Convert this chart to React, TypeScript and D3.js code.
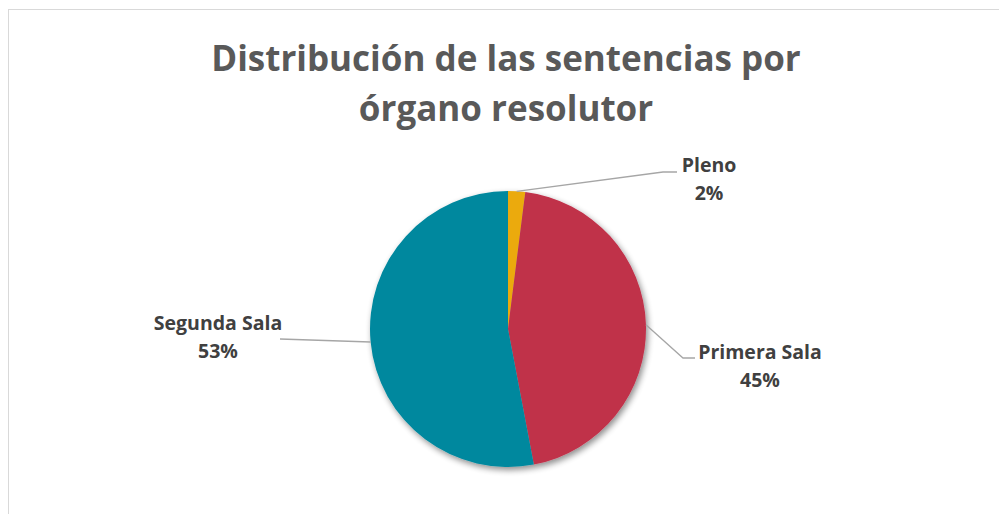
import React from 'react';
import * as d3 from 'd3';

// Data
const categories = ['Pleno', 'Primera Sala', 'Segunda Sala'];
const values = [2, 45, 53];
const colors = ['#EBAA0A', '#C0304A', '#00889E'];

// label layout: where the leader line bends and where the text sits (relative to the pie centre)
const labelLayout = [
  { bend: [155, -157], end: [169, -157], text: [201, -164], anchor: 'middle' },
  { bend: [175, 29], end: [187, 29], text: [252, 23], anchor: 'middle' },
  { bend: [-228, 10], end: [-228, 10], text: [-290, -6], anchor: 'middle' },
];

const title = ['Distribución de las sentencias por', 'órgano resolutor'];

export default function App() {
  const width = 999;
  const height = 514;
  const cx = 508;
  const cy = 329;
  const r = 138;

  const pie = d3.pie<number>().sort(null).value((d) => d);
  const arcs = pie(values);
  const arc = d3.arc<d3.PieArcDatum<number>>().innerRadius(0).outerRadius(r);
  const total = d3.sum(values);
  const fmt = d3.format('.0%');

  return (
    <svg
      width={width}
      height={height}
      style={{ position: 'absolute', left: 0, top: 0 }}
      viewBox={`0 0 ${width} ${height}`}
    >
      <defs>
        <filter id="shadow" x="-20%" y="-20%" width="140%" height="140%">
          <feGaussianBlur in="SourceAlpha" stdDeviation="3" />
          <feOffset dx="2" dy="3" result="blur" />
          <feComponentTransfer>
            <feFuncA type="linear" slope="0.45" />
          </feComponentTransfer>
          <feMerge>
            <feMergeNode />
            <feMergeNode in="SourceGraphic" />
          </feMerge>
        </filter>
      </defs>
      <rect x={0} y={0} width={width} height={height} fill="#fff" />
      <rect x={8.5} y={9.5} width={995} height={520} fill="#fff" stroke="#d9d9d9" strokeWidth={1} />

      <g fontFamily="'Open Sans', sans-serif" fontWeight="bold" fill="#595959" textAnchor="middle">
        {title.map((t, i) => (
          <text key={i} x={506} y={71 + i * 50} fontSize={35}>
            {t}
          </text>
        ))}
      </g>

      <g transform={`translate(${cx},${cy})`}>
        <g filter="url(#shadow)">
          {arcs.map((a, i) => (
            <path key={i} d={arc(a) || ''} fill={colors[i]} />
          ))}
        </g>
        {arcs.map((a, i) => {
          const mid = (a.startAngle + a.endAngle) / 2;
          const sx = Math.sin(mid) * r;
          const sy = -Math.cos(mid) * r;
          const L = labelLayout[i];
          return (
            <g key={i}>
              <polyline
                points={`${sx},${sy} ${L.bend[0]},${L.bend[1]} ${L.end[0]},${L.end[1]}`}
                fill="none"
                stroke="#a6a6a6"
                strokeWidth={1.3}
              />
              <text
                x={L.text[0]}
                y={L.text[1]}
                textAnchor={L.anchor}
                fontFamily="'Open Sans', sans-serif"
                fontWeight="bold"
                fontSize={19.5}
                fill="#404040"
              >
                <tspan x={L.text[0]} dy="0.35em">{categories[i]}</tspan>
                <tspan x={L.text[0]} dy="1.44em">{fmt(values[i] / total)}</tspan>
              </text>
            </g>
          );
        })}
      </g>
    </svg>
  );
}
